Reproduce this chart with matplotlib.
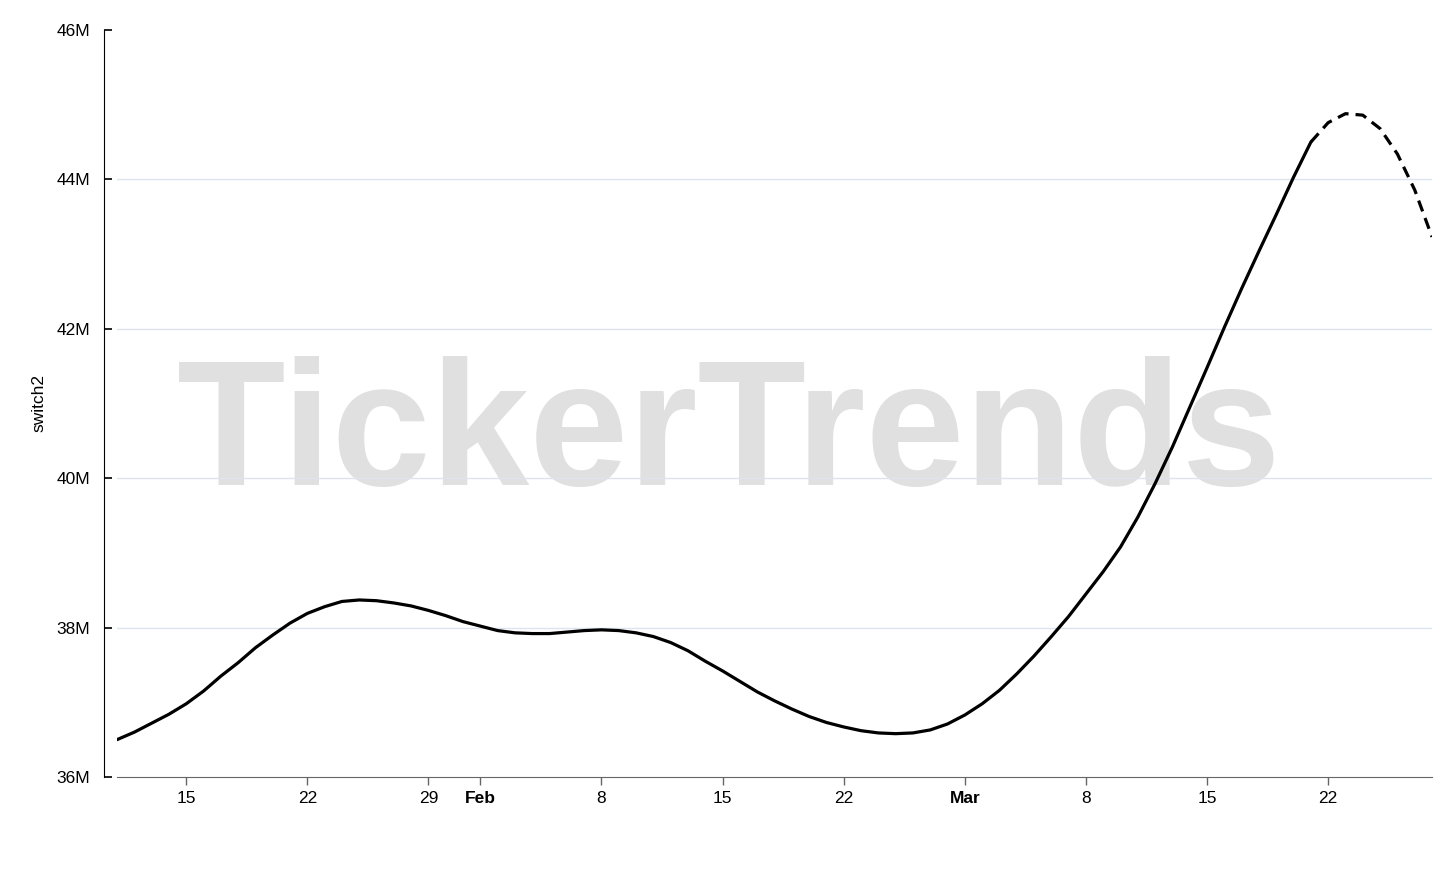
import numpy as np
import pandas as pd
import matplotlib
matplotlib.use("Agg")
import matplotlib.pyplot as plt
import matplotlib.dates as mdates

plt.rcParams['font.family'] = ['Liberation Sans', 'DejaVu Sans']

# daily values (millions), Jan 11 - Mar 21 2025
actual_dates = pd.date_range('2025-01-11', '2025-03-21', freq='D')
actual_vals = [
    36.50, 36.60, 36.72, 36.84, 36.98, 37.15, 37.35, 37.53, 37.73, 37.90,
    38.06, 38.19, 38.28, 38.35, 38.37, 38.36, 38.33, 38.29, 38.23, 38.16,
    38.08, 38.02, 37.96, 37.93, 37.92, 37.92, 37.94, 37.96, 37.97, 37.96,
    37.93, 37.88, 37.80, 37.69, 37.55, 37.42, 37.28, 37.14, 37.02, 36.91,
    36.81, 36.73, 36.67, 36.62, 36.59, 36.58, 36.59, 36.63, 36.71, 36.83,
    36.98, 37.16, 37.38, 37.62, 37.88, 38.15, 38.45, 38.75, 39.08, 39.48,
    39.93, 40.42, 40.95, 41.48, 42.02, 42.54, 43.04, 43.53, 44.03, 44.50,
]

# forecast (dashed part)
forecast_dates = pd.date_range('2025-03-21', '2025-03-28', freq='D')
forecast_vals = [44.50, 44.76, 44.88, 44.86, 44.68, 44.34, 43.86, 43.23]

tick_dates = pd.to_datetime(['2025-01-15', '2025-01-22', '2025-01-29', '2025-02-01',
                             '2025-02-08', '2025-02-15', '2025-02-22', '2025-03-01',
                             '2025-03-08', '2025-03-15', '2025-03-22'])
tick_labels = ['15', '22', '29', 'Feb', '8', '15', '22', 'Mar', '8', '15', '22']
bold_labels = ['Feb', 'Mar']

y_ticks = [36, 38, 40, 42, 44, 46]
y_labels = [f'{v}M' for v in y_ticks]

fig = plt.figure(figsize=(14.56, 8.81), dpi=100)
ax = fig.add_axes([117 / 1456, 1 - 777 / 881, (1432 - 117) / 1456, (777 - 30) / 881])

# watermark
ax.text(0.465, 0.452, 'TickerTrends', transform=ax.transAxes, ha='center', va='center',
        fontsize=128, fontweight='heavy', color='#e0e0e0', zorder=0)

ax.plot(actual_dates, actual_vals, color='black', lw=2.3,
        solid_capstyle='round', solid_joinstyle='round', zorder=3)
ax.plot(forecast_dates, forecast_vals, color='black', lw=2.3, ls=(0, (3.6, 2.2)), zorder=3)

ax.set_xlim(actual_dates[0], forecast_dates[-1])
ax.set_ylim(36, 46)

ax.set_yticks(y_ticks)
ax.set_yticklabels(y_labels)
for v in y_ticks[1:-1]:
    ax.axhline(v, color='#dde3ef', lw=1, zorder=1)

ax.set_xticks(tick_dates)
ax.set_xticklabels(tick_labels)
for lab in ax.get_xticklabels():
    if lab.get_text() in bold_labels:
        lab.set_fontweight('bold')

ax.spines['top'].set_visible(False)
ax.spines['right'].set_visible(False)
ax.spines['left'].set_position(('outward', 9.4))
ax.spines['left'].set_color('black')
ax.spines['bottom'].set_color('#666666')

ax.tick_params(axis='y', direction='in', length=6, width=1.2, pad=10,
               colors='black', labelsize=12.5)
ax.tick_params(axis='x', direction='out', length=6, width=1, pad=4,
               color='#666666', labelcolor='black', labelsize=12.5)

ax.set_ylabel('switch2', fontsize=12.5, labelpad=7)

fig.savefig('out.png', dpi=100, facecolor='white')
